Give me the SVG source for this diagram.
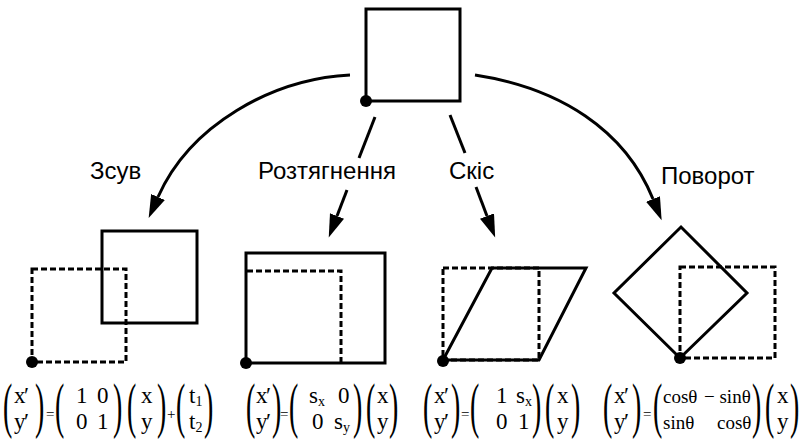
<svg xmlns="http://www.w3.org/2000/svg" width="804" height="441" viewBox="0 0 804 441">
  <style>
    .solid { fill: none; stroke: #000; stroke-width: 3; stroke-linejoin: miter; }
    .dash { fill: none; stroke: #000; stroke-width: 3; stroke-dasharray: 6 3; }
    .conn { fill: none; stroke: #000; stroke-width: 3; }
    .dot { fill: #000; }
    .lbl { font-family: "Liberation Sans", Arial, sans-serif; font-size: 24px; fill: #000; }
    .m { font-family: "Liberation Serif", "Times New Roman", serif; font-size: 23px; fill: #000; }
    .pr { letter-spacing: -1.5px; }
    .t { font-family: "Liberation Serif", "Times New Roman", serif; font-size: 19px; fill: #000; }
    .op { font-family: "Liberation Serif", "Times New Roman", serif; font-size: 15px; fill: #000; }
    .p { font-family: "Liberation Serif", "Times New Roman", serif; font-size: 62px; fill: #000; }
    .sub { font-size: 14px; }
  </style>
  <defs>
    <marker id="arrow" markerUnits="userSpaceOnUse" markerWidth="24" markerHeight="16" refX="0" refY="7.5" orient="auto">
      <path d="M0,0 L23,7.5 L0,15 Z" fill="#000"/>
    </marker>
  </defs>
  <rect width="804" height="441" fill="#fff"/>

  <!-- source square -->
  <g id="source">
    <rect class="solid" x="366" y="9" width="94" height="92"/>
    <circle class="dot" cx="366" cy="101" r="6"/>
  </g>

  <!-- transformation arrows -->
  <g id="connectors">
    <path class="conn" d="M350,75 C272,79 190,125 158,197" marker-end="url(#arrow)"/>
    <path class="conn" d="M375,117 L359,158"/>
    <path class="conn" d="M347,190 L337,216" marker-end="url(#arrow)"/>
    <path class="conn" d="M450,115 L465,153"/>
    <path class="conn" d="M476,187 L487,216" marker-end="url(#arrow)"/>
    <path class="conn" d="M475,75 C560,88 625,130 653,199" marker-end="url(#arrow)"/>
  </g>

  <!-- labels -->
  <g id="labels">
    <text class="lbl" x="90" y="179">Зсув</text>
    <text class="lbl" x="258" y="179">Розтягнення</text>
    <text class="lbl" x="449" y="179">Скіс</text>
    <text class="lbl" x="661" y="184">Поворот</text>
  </g>

  <!-- translation -->
  <g id="shift">
    <rect class="dash" x="32" y="269" width="94" height="93"/>
    <rect class="solid" x="102" y="231" width="95" height="92"/>
    <circle class="dot" cx="32" cy="362" r="6"/>
  </g>

  <!-- scaling -->
  <g id="stretch">
    <rect class="solid" x="246" y="253" width="139" height="110"/>
    <path class="dash" d="M247,271 H341 V362"/>
    <circle class="dot" cx="246" cy="363" r="6"/>
  </g>

  <!-- shear -->
  <g id="skew">
    <rect class="dash" x="443" y="268" width="96" height="92"/>
    <path class="solid" d="M443,360 L492,268 L586,268 L539,360 Z"/>
    <circle class="dot" cx="443" cy="361" r="6"/>
  </g>

  <!-- rotation -->
  <g id="rotate">
    <rect class="dash" x="680" y="267" width="95" height="91"/>
    <path class="solid" d="M680,358 L747,293 L681,227 L614,293 Z"/>
    <circle class="dot" cx="680" cy="358" r="6"/>
  </g>

  <!-- translation formula -->
  <g id="eq-shift">
    <text class="p" transform="translate(3,426) scale(0.45,1)">(</text>
    <text class="m pr" x="14" y="403">x′</text>
    <text class="m pr" x="14" y="429">y′</text>
    <text class="p" transform="translate(35,426) scale(0.45,1)">)</text>
    <text class="op" x="46" y="419">=</text>
    <text class="p" transform="translate(55,426) scale(0.45,1)">(</text>
    <text class="m" x="76" y="403">1</text>
    <text class="m" x="97" y="403">0</text>
    <text class="m" x="76" y="429">0</text>
    <text class="m" x="97" y="429">1</text>
    <text class="p" transform="translate(113,426) scale(0.45,1)">)</text>
    <text class="p" transform="translate(127,426) scale(0.45,1)">(</text>
    <text class="m" x="141" y="403">x</text>
    <text class="m" x="141" y="429">y</text>
    <text class="p" transform="translate(157,426) scale(0.45,1)">)</text>
    <text class="op" x="167" y="419">+</text>
    <text class="p" transform="translate(176,426) scale(0.45,1)">(</text>
    <text class="m" x="189" y="403">t<tspan class="sub" dy="3">1</tspan></text>
    <text class="m" x="189" y="429">t<tspan class="sub" dy="3">2</tspan></text>
    <text class="p" transform="translate(204,426) scale(0.45,1)">)</text>
  </g>

  <!-- scaling formula -->
  <g id="eq-stretch">
    <text class="p" transform="translate(246,426) scale(0.45,1)">(</text>
    <text class="m pr" x="256" y="403">x′</text>
    <text class="m pr" x="256" y="429">y′</text>
    <text class="p" transform="translate(272,426) scale(0.45,1)">)</text>
    <text class="op" x="280" y="419">=</text>
    <text class="p" transform="translate(289,426) scale(0.45,1)">(</text>
    <text class="m" x="309" y="403">s<tspan class="sub" dy="3">x</tspan></text>
    <text class="m" x="338" y="403">0</text>
    <text class="m" x="312" y="429">0</text>
    <text class="m" x="334" y="429">s<tspan class="sub" dy="3">y</tspan></text>
    <text class="p" transform="translate(353,426) scale(0.45,1)">)</text>
    <text class="p" transform="translate(366,426) scale(0.45,1)">(</text>
    <text class="m" x="377" y="403">x</text>
    <text class="m" x="377" y="429">y</text>
    <text class="p" transform="translate(389,426) scale(0.45,1)">)</text>
  </g>

  <!-- shear formula -->
  <g id="eq-skew">
    <text class="p" transform="translate(423,426) scale(0.45,1)">(</text>
    <text class="m pr" x="434" y="403">x′</text>
    <text class="m pr" x="434" y="429">y′</text>
    <text class="p" transform="translate(451,426) scale(0.45,1)">)</text>
    <text class="op" x="461" y="419">=</text>
    <text class="p" transform="translate(470,426) scale(0.45,1)">(</text>
    <text class="m" x="496" y="403">1</text>
    <text class="m" x="516" y="403">s<tspan class="sub" dy="3">x</tspan></text>
    <text class="m" x="496" y="429">0</text>
    <text class="m" x="518" y="429">1</text>
    <text class="p" transform="translate(532,426) scale(0.45,1)">)</text>
    <text class="p" transform="translate(545,426) scale(0.45,1)">(</text>
    <text class="m" x="557" y="403">x</text>
    <text class="m" x="557" y="429">y</text>
    <text class="p" transform="translate(571,426) scale(0.45,1)">)</text>
  </g>

  <!-- rotation formula -->
  <g id="eq-rotate">
    <text class="p" transform="translate(603,426) scale(0.45,1)">(</text>
    <text class="m pr" x="614" y="403">x′</text>
    <text class="m pr" x="614" y="429">y′</text>
    <text class="p" transform="translate(632,426) scale(0.45,1)">)</text>
    <text class="op" x="643" y="419">=</text>
    <text class="p" transform="translate(653,426) scale(0.45,1)">(</text>
    <text class="t" x="663" y="403">cosθ</text>
    <text class="t" x="704" y="403">− sinθ</text>
    <text class="t" x="663" y="429">sinθ</text>
    <text class="t" x="717" y="429">cosθ</text>
    <text class="p" transform="translate(752,426) scale(0.45,1)">)</text>
    <text class="p" transform="translate(765,426) scale(0.45,1)">(</text>
    <text class="m" x="777" y="403">x</text>
    <text class="m" x="777" y="429">y</text>
    <text class="p" transform="translate(790,426) scale(0.45,1)">)</text>
  </g>
</svg>
